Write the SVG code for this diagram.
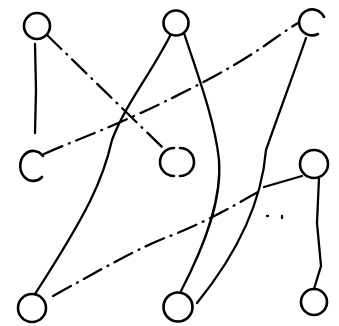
<svg xmlns="http://www.w3.org/2000/svg" width="339" height="326" viewBox="0 0 339 326">
<style>
.n{fill:none;stroke:#000;stroke-width:2.6;stroke-linecap:round}
.e{fill:none;stroke:#000;stroke-width:2.3;stroke-linecap:round}
.dd{stroke-dasharray:20 7 1 7}
</style>
<rect width="339" height="326" fill="#fff"/>
<g id="connectors">
<path class="e" d="M35,44 L36,90 L35,133"/>
<path class="e dd" d="M47,35 L163,148"/>
<path class="e dd" d="M44,154 C 80,138 120,125 190,89 S 270,40 298,23"/>
<path class="e" d="M170,36 C 150,75 125,105 112,140 C 103,180 88,212 35,294"/>
<path class="e" d="M184,33 C 196,70 215,120 219,160 C 222,200 205,245 181,291"/>
<path class="e" d="M306,38 C 295,70 280,110 266,150 C 262,200 240,250 197,303"/>
<path class="e" d="M302,176 L264,187"/>
<path class="e dd" d="M258,192 C 238,203 215,218 170,236 C 140,247 100,270 53,296"/>
<path class="e" d="M267,216 L268,216 M282,216 L282,218"/>
<path class="e" d="M319,178 L317,223 L321,266 L314,289"/>
</g>
<g id="nA"><circle class="n" cx="37" cy="26" r="13"/></g>
<g id="nB"><circle class="n" cx="176" cy="23" r="12.5"/></g>
<g id="nC"><path class="n" d="M324,17 A13,13 0 1 0 318,34"/></g>
<g id="nD"><path class="n" d="M43,156 A13,15 0 1 0 42,177"/></g>
<g id="nE"><path class="n" d="M174,148 A14,14 0 0 0 174,176 M180,148 A14,14 0 0 1 180,176"/></g>
<g id="nF"><circle class="n" cx="314" cy="164" r="14"/></g>
<g id="nG"><circle class="n" cx="32" cy="308" r="14"/></g>
<g id="nH"><circle class="n" cx="178" cy="307" r="14.5"/></g>
<g id="nI"><circle class="n" cx="314" cy="302" r="13"/></g>
</svg>
